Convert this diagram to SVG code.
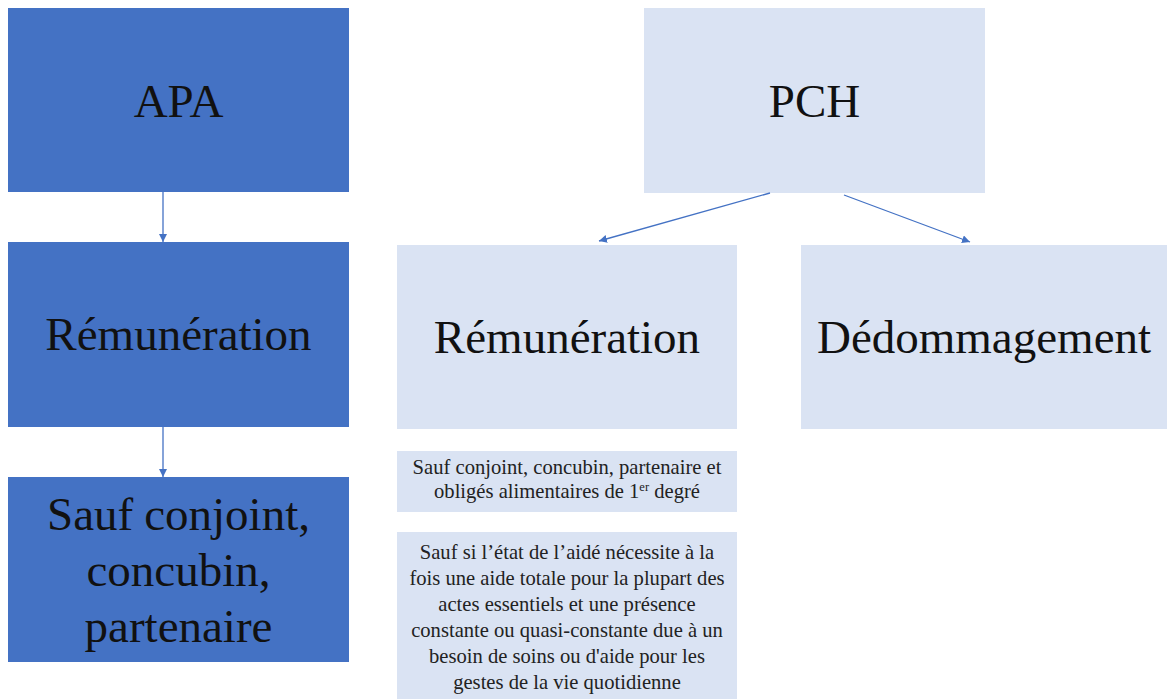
<svg xmlns="http://www.w3.org/2000/svg" width="1175" height="699" viewBox="0 0 1175 699">
<style>
.dark{fill:#4472C4;}
.light{fill:#DAE3F3;}
.big{font-family:"Liberation Serif","Times New Roman",serif;font-size:47px;fill:#111;text-anchor:middle;}
.small{font-family:"Liberation Serif","Times New Roman",serif;font-size:20.6px;fill:#222;text-anchor:middle;}
.conn{stroke:#4472C4;stroke-width:1.3;fill:none;marker-end:url(#ah);}
</style>
<defs>
<marker id="ah" viewBox="0 0 10 10" refX="10" refY="5" markerWidth="8" markerHeight="8" markerUnits="userSpaceOnUse" orient="auto">
<path d="M0,0 L10,5 L0,10 Z" fill="#4472C4"/>
</marker>
</defs>
<rect width="1175" height="699" fill="#fff"/>
<g id="apa"><rect class="dark" x="8" y="8" width="341" height="184"/><text class="big" x="178.5" y="117">APA</text></g>
<g id="rem-apa"><rect class="dark" x="8" y="242" width="341" height="185"/><text class="big" x="178.5" y="350">Rémunération</text></g>
<g id="sauf-apa"><rect class="dark" x="8" y="477" width="341" height="185"/>
<text class="big" style="text-anchor:start" x="47" y="530">Sauf</text>
<text class="big" style="text-anchor:end" x="310" y="530">conjoint,</text>
<text class="big" x="178.5" y="586">concubin,</text>
<text class="big" x="178.5" y="642">partenaire</text></g>
<g id="pch"><rect class="light" x="644" y="8" width="341" height="185"/><text class="big" x="814.5" y="117">PCH</text></g>
<g id="rem-pch"><rect class="light" x="397" y="245" width="340" height="184"/><text class="big" x="567" y="353">Rémunération</text></g>
<g id="dedommagement"><rect class="light" x="801" y="245" width="366" height="184"/><text class="big" x="984" y="353">Dédommagement</text></g>
<g id="note1"><rect class="light" x="397" y="451" width="340" height="61"/>
<text class="small" x="567" y="474">Sauf conjoint, concubin, partenaire et</text>
<text class="small" x="567" y="498">obligés alimentaires de 1<tspan font-size="12.5" dy="-7">er</tspan><tspan dy="7"> degré</tspan></text></g>
<g id="note2"><rect class="light" x="397" y="532" width="340" height="167"/>
<text class="small" x="567" y="559">Sauf si l’état de l’aidé nécessite à la</text>
<text class="small" x="567" y="585">fois une aide totale pour la plupart des</text>
<text class="small" x="567" y="611">actes essentiels et une présence</text>
<text class="small" x="567" y="637">constante ou quasi-constante due à un</text>
<text class="small" x="567" y="663">besoin de soins ou d'aide pour les</text>
<text class="small" x="567" y="689">gestes de la vie quotidienne</text></g>
<g id="connectors">
<line class="conn" x1="163" y1="192" x2="163" y2="242"/>
<line class="conn" x1="163" y1="427" x2="163" y2="477"/>
<line class="conn" x1="770" y1="193" x2="599" y2="241"/>
<line class="conn" x1="844" y1="195" x2="970" y2="242"/>
</g>
</svg>
